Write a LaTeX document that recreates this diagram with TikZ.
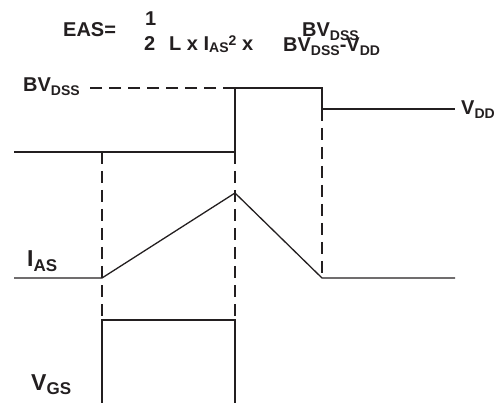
\documentclass[tikz,border=0pt]{standalone}
\usepackage{fontspec}
\setmainfont{Liberation Sans}
\newcommand{\subt}[1]{\raisebox{-0.2em}{\fontsize{14}{14}\selectfont\bfseries #1}}
\newcommand{\subf}[1]{\raisebox{-0.08em}{\fontsize{14}{14}\selectfont\bfseries #1}}
\newcommand{\subb}[1]{\raisebox{-0.2em}{\fontsize{17}{17}\selectfont\bfseries #1}}
\newcommand{\supt}[1]{\raisebox{0.28em}{\fontsize{14}{14}\selectfont\bfseries #1}}
\definecolor{ink}{HTML}{231F20}
\begin{document}
\begin{tikzpicture}[x=1pt,y=-1pt,
  wave/.style={draw=ink,line width=1.3pt},
  guide/.style={draw=ink,line width=1.1pt,dash pattern=on 12pt off 7pt},
  lbl/.style={anchor=base west,inner sep=0pt,text=ink,font=\fontsize{20}{20}\selectfont\bfseries},
  biglbl/.style={lbl,font=\fontsize{23}{23}\selectfont\bfseries}]
\useasboundingbox (0,0) rectangle (503,403);
% equation
\node[lbl] (eas) at (63,37) {EAS=};
\node[lbl] (one) at (145,26) {1};
\node[lbl] (two) at (144,51) {2};
\node[lbl] (lx) at (169,51) {L x I\subf{AS}\supt{2} x};
\node[lbl] (num) at (302,37) {BV\subt{DSS}};
\node[lbl] (den) at (283,52) {BV\subt{DSS}-V\subt{DD}};
% labels
\node[lbl] (bv) at (23,92) {BV\subt{DSS}};
\node[lbl] (vdd) at (461,115) {V\subt{DD}};
\node[biglbl] (ias) at (27,267) {I\subb{AS}};
\node[biglbl] (vgs) at (31,390) {V\subb{GS}};
% coordinates
\coordinate (v1) at (14,152);
\coordinate (v2) at (235,152);
\coordinate (v3) at (235,88);
\coordinate (v4) at (322,88);
\coordinate (v5) at (322,109);
\coordinate (v6) at (455,109);
\coordinate (bvs) at (88,88);
\coordinate (a1) at (102,152);
\coordinate (a2) at (102,320);
\coordinate (b2) at (235,320);
\coordinate (c2) at (322,278);
\coordinate (i1) at (14,278);
\coordinate (i2) at (102,278);
\coordinate (ipk) at (235,193);
\coordinate (i4) at (322,278);
\coordinate (i5) at (455,278);
\coordinate (g1) at (102,403);
\coordinate (g4) at (235,403);
% voltage
\draw[wave] (v1) -- (v2) -- (v3) -- (v4) -- (v5) -- (v6);
\draw[guide] (v3) -- (bvs);
% guides
\draw[guide] (a1) -- (a2);
\draw[guide] (v2) -- (b2);
\draw[guide] (v5) -- (c2);
% current
\draw[wave] (i1) -- (i2) -- (ipk) -- (i4) -- (i5);
% gate
\draw[wave] (g1) -- (a2) -- (b2) -- (g4);
\end{tikzpicture}
\end{document}
